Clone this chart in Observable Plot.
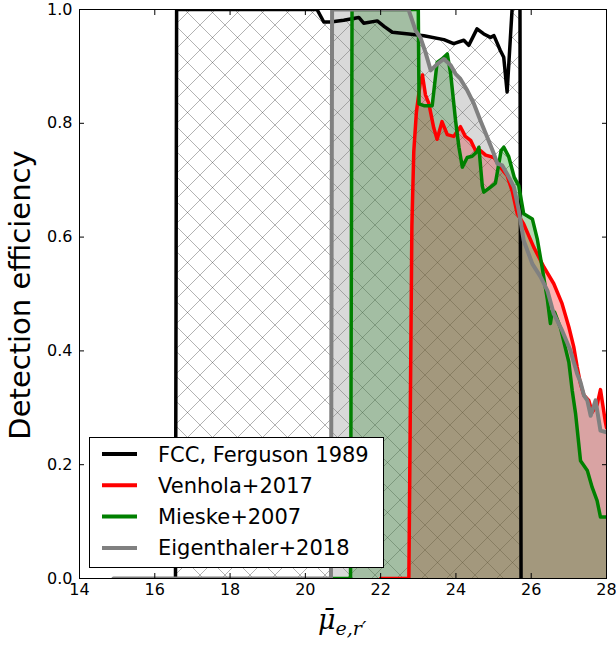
<!DOCTYPE html>
<html><head><meta charset="utf-8">
<script src="https://cdn.jsdelivr.net/npm/d3@7"></script>
<script src="https://cdn.jsdelivr.net/npm/@observablehq/plot@0.6"></script>
<style>body{margin:0;background:#fff;}</style>
</head><body><div id="chart"></div>
<script>
const seriesNames = ["FCC, Ferguson 1989", "Venhola+2017", "Mieske+2007", "Eigenthaler+2018"];
const seriesColors = ["#000000", "#ff0000", "#008000", "#808080"];

const fccX = [16.55, 16.58, 20.31, 20.49, 20.67, 21.02, 21.42, 21.55, 21.91, 22.1, 22.31, 22.75, 23.15, 23.68, 23.94, 24.21, 24.34, 24.56, 24.74, 24.92, 25.01, 25.18, 25.27, 25.36, 25.49, 25.56, 25.70, 25.73];
const fccY = [0, 1.0, 1.0, 0.978, 0.978, 0.981, 0.986, 0.976, 0.980, 0.970, 0.960, 0.957, 0.954, 0.947, 0.940, 0.946, 0.937, 0.966, 0.957, 0.951, 0.954, 0.928, 0.916, 0.855, 0.998, 1.05, 1.05, 0];

const venX = [22.0, 22.75, 22.83, 22.88, 22.95, 23.05, 23.11, 23.19, 23.28, 23.41, 23.50, 23.63, 23.77, 23.94, 24.12, 24.25, 24.39, 24.52, 24.65, 24.79, 25.01, 25.18, 25.36, 25.50, 25.63, 25.80, 26.07, 26.34, 26.60, 26.82, 27.00, 27.13, 27.22, 27.31, 27.40, 27.53, 27.62, 27.75, 27.84, 27.97, 28.0];
const venY = [0, 0, 0.62, 0.75, 0.82, 0.87, 0.885, 0.85, 0.835, 0.792, 0.772, 0.803, 0.780, 0.777, 0.794, 0.777, 0.770, 0.752, 0.752, 0.744, 0.740, 0.723, 0.708, 0.680, 0.641, 0.623, 0.582, 0.547, 0.518, 0.483, 0.442, 0.407, 0.372, 0.342, 0.322, 0.313, 0.292, 0.305, 0.332, 0.275, 0.265];

const mieX = [20.7, 21.2, 21.24, 23.0, 23.02, 23.15, 23.37, 23.50, 23.63, 23.77, 23.86, 23.99, 24.08, 24.17, 24.30, 24.43, 24.56, 24.61, 24.70, 24.74, 24.92, 25.05, 25.20, 25.27, 25.40, 25.55, 25.67, 25.80, 26.03, 26.16, 26.29, 26.43, 26.51, 26.56, 26.62, 26.78, 27.00, 27.09, 27.18, 27.31, 27.49, 27.62, 27.75, 27.84, 28.0];
const mieY = [0, 0, 1.0, 1.0, 0.834, 0.831, 0.831, 0.907, 0.913, 0.922, 0.887, 0.805, 0.758, 0.723, 0.740, 0.742, 0.750, 0.758, 0.690, 0.679, 0.688, 0.695, 0.752, 0.758, 0.742, 0.705, 0.690, 0.641, 0.632, 0.597, 0.547, 0.490, 0.448, 0.471, 0.468, 0.440, 0.380, 0.330, 0.289, 0.207, 0.190, 0.160, 0.137, 0.108, 0.108];

const eigX = [14.9, 20.68, 20.71, 22.72, 22.75, 22.93, 23.06, 23.19, 23.33, 23.50, 23.68, 23.86, 23.99, 24.12, 24.30, 24.48, 24.65, 24.83, 25.01, 25.10, 25.23, 25.36, 25.54, 25.67, 25.80, 26.03, 26.25, 26.43, 26.60, 26.82, 27.04, 27.22, 27.31, 27.40, 27.49, 27.58, 27.71, 27.84, 28.0];
const eigY = [0, 0, 1.0, 1.0, 0.998, 0.963, 0.950, 0.925, 0.893, 0.904, 0.913, 0.902, 0.887, 0.878, 0.858, 0.834, 0.805, 0.776, 0.746, 0.729, 0.726, 0.711, 0.688, 0.647, 0.594, 0.553, 0.530, 0.506, 0.465, 0.436, 0.401, 0.360, 0.345, 0.322, 0.313, 0.286, 0.313, 0.260, 0.257];

const xTicks = [14, 16, 18, 20, 22, 24, 26, 28];
const yTicks = [0, 0.2, 0.4, 0.6, 0.8, 1.0];
const yLabel = "Detection efficiency";

const rows = (xs, ys) => xs.map((x, i) => ({x, y: ys[i]}));
const fcc = rows(fccX, fccY), ven = rows(venX, venY), mie = rows(mieX, mieY), eig = rows(eigX, eigY);

const plot = Plot.plot({
  width: 616, height: 646,
  marginLeft: 79, marginRight: 10, marginTop: 9, marginBottom: 68,
  style: {fontFamily: "DejaVu Sans", fontSize: "16px", color: "#000", background: "#fff"},
  x: {domain: [14, 28]},
  y: {domain: [0, 1]},
  marks: [
    Plot.areaY(fcc, {x: "x", y: "y", fill: "url(#hatchX)", clip: true}),
    Plot.areaY(ven, {x: "x", y: "y", fill: seriesColors[1], fillOpacity: 0.3, clip: true}),
    Plot.areaY(mie, {x: "x", y: "y", fill: seriesColors[2], fillOpacity: 0.3, clip: true}),
    Plot.areaY(eig, {x: "x", y: "y", fill: seriesColors[3], fillOpacity: 0.3, clip: true}),
    Plot.line(fcc, {x: "x", y: "y", stroke: seriesColors[0], strokeWidth: 3.5, clip: true}),
    Plot.line(ven, {x: "x", y: "y", stroke: seriesColors[1], strokeWidth: 3.5, clip: true}),
    Plot.line(mie, {x: "x", y: "y", stroke: seriesColors[2], strokeWidth: 3.5, clip: true}),
    Plot.line(eig, {x: "x", y: "y", stroke: seriesColors[3], strokeWidth: 4, clip: true}),
    Plot.frame({stroke: "#000", strokeWidth: 1}),
    Plot.axisX({ticks: xTicks, tickSize: -5, tickPadding: 10, tickFormat: d => String(d), label: null}),
    Plot.axisX({anchor: "top", ticks: xTicks, tickSize: -5, tickFormat: () => "", label: null}),
    Plot.axisY({ticks: yTicks, tickSize: -5, tickPadding: 12, tickFormat: d => d.toFixed(1), label: null}),
    Plot.axisY({anchor: "right", ticks: yTicks, tickSize: -5, tickFormat: () => "", label: null})
  ]
});

const svg = d3.select(plot);
const defs = svg.insert("defs", ":first-child");
const pat = defs.append("pattern").attr("id", "hatchX").attr("patternUnits", "userSpaceOnUse")
  .attr("width", 25).attr("height", 25);
pat.append("path").attr("d", "M0,0L25,25M25,0L0,25M-1,1L1,-1M24,26L26,24M-1,24L1,26M24,-1L26,1")
  .attr("stroke", "#000").attr("stroke-opacity", 0.3).attr("stroke-width", 1).attr("fill", "none");

// y label
svg.append("text").attr("transform", "translate(30,295) rotate(-90)")
  .attr("text-anchor", "middle").attr("font-family", "DejaVu Sans").attr("font-size", 29)
  .attr("fill", "#000").text(yLabel);

// x label (mathtext-like)
const xl = svg.append("text").attr("x", 318).attr("y", 629).attr("text-anchor", "start")
  .attr("font-family", "DejaVu Serif").attr("font-style", "italic").attr("font-size", 27).attr("fill", "#000");
xl.append("tspan").text("\u03BC\u0304");
xl.append("tspan").attr("font-size", 19).attr("dy", 6).text("e,r\u2032");

// legend
const lg = svg.append("g");
lg.append("rect").attr("x", 89.5).attr("y", 437.5).attr("width", 294).attr("height", 130)
  .attr("fill", "#fff").attr("stroke", "#000").attr("stroke-width", 1);
seriesNames.forEach((name, i) => {
  const y = 454 + i * 31.3;
  lg.append("line").attr("x1", 102).attr("x2", 137).attr("y1", y).attr("y2", y)
    .attr("stroke", seriesColors[i]).attr("stroke-width", 4);
  lg.append("text").attr("x", 158).attr("y", y).attr("dy", "0.36em").attr("text-anchor", "start")
    .attr("font-family", "DejaVu Sans").attr("font-size", 21).attr("fill", "#000").text(name);
});

document.getElementById("chart").appendChild(plot);
</script>
</body></html>
